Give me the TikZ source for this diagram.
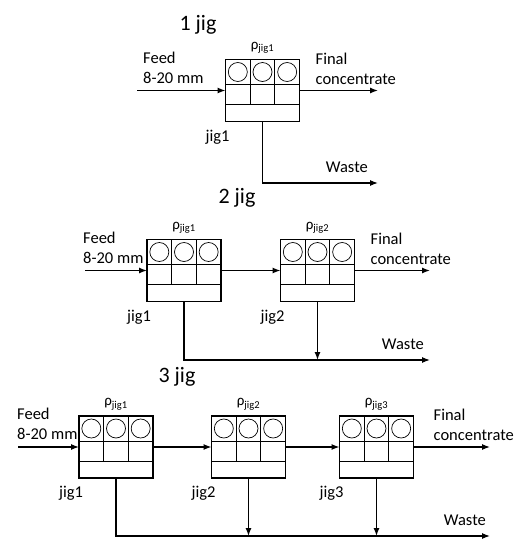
\documentclass[tikz,border=0pt]{standalone}
\usepackage{fontspec}
\setmainfont{Carlito}
\usetikzlibrary{arrows.meta,positioning,calc}

\tikzset{
  jig/.style={draw,line width=1.8pt,minimum width=74pt,minimum height=62pt,inner sep=0pt,outer sep=0pt},
  cell/.style={line width=0.7pt},
  flow/.style={line width=1.2pt,-{Latex[length=8pt,width=6pt]}},
  lbl/.style={font=\fontsize{16.5}{20}\selectfont,align=left,inner sep=0pt},
  head/.style={font=\fontsize{22}{24}\selectfont,inner sep=0pt},
  rho/.style={font=\fontsize{15}{16}\selectfont,inner sep=0pt},
}

% one jig: name, centre, number
\newcommand{\drawjig}[3]{%
  \node[jig] (#1) at #2 {};
  \draw[cell] ($(#1.north west)+(0,25)$) -- ($(#1.north east)+(0,25)$);
  \draw[cell] ($(#1.north west)+(0,45)$) -- ($(#1.north east)+(0,45)$);
  \foreach \i in {1,2}
    \draw[cell] ($(#1.north west)+(\i*74/3,0)$) -- ($(#1.north west)+(\i*74/3,45)$);
  \foreach \i in {0,1,2}
    \draw[cell] ($(#1.north west)+(12.33+\i*24.67,12.5)$) circle (9.5);
  \node[rho,above=6pt of #1.north] (#1rho) {ρ\textsubscript{jig#3}};
  \node[lbl,below=8pt of #1.south west,xshift=-8pt] (#1lbl) {jig#3};
}

\begin{document}
\begin{tikzpicture}[x=1pt,y=-1pt]
\useasboundingbox (0,0) rectangle (527,550);

% 1 jig
\node[head] (t1) at (198,25) {1 jig};
\drawjig{a1}{(262.5,90.5)}{1}
\coordinate (ain) at (137,90.5);
\coordinate (aout) at (378,90.5);
\coordinate (aw) at (378,183);
\draw[flow] (ain) -- (a1);
\draw[flow] (a1) -- (aout);
\draw[flow] (a1.south) |- (aw);
\node[lbl,above right=7pt and 6pt of ain] (afeed) {Feed\\8-20 mm};
\node[lbl,above right=6pt and 16pt of a1.east] (aconc) {Final\\concentrate};
\node[lbl,above left=10pt and 10pt of aw] (awaste) {Waste};

% 2 jig
\node[head] (t2) at (237,198) {2 jig};
\foreach \n/\x in {1/184,2/317.5}{
  \drawjig{b\n}{(\x,270.5)}{\n}
}
\coordinate (bin) at (85,270.5);
\coordinate (bout) at (430,270.5);
\coordinate (bw) at (430,360);
\draw[flow] (bin) -- (b1);
\draw[flow] (b1) -- (b2);
\draw[flow] (b2) -- (bout);
\draw[flow] (b1.south) |- (bw);
\draw[flow] (b2.south) -- (b2.south |- bw);
\node[lbl,above right=7pt and -2pt of bin] (bfeed) {Feed\\8-20 mm};
\node[lbl,above right=6pt and 16pt of b2.east] (bconc) {Final\\concentrate};
\node[lbl,above left=10pt and 6pt of bw] (bwaste) {Waste};

% 3 jig
\node[head] (t3) at (177,377) {3 jig};
\foreach \n/\x in {1/116,2/248.5,3/376.5}{
  \drawjig{c\n}{(\x,447)}{\n}
}
\coordinate (cin) at (18,447);
\coordinate (cout) at (490,447);
\coordinate (cw) at (490,536);
\draw[flow] (cin) -- (c1);
\draw[flow] (c1) -- (c2);
\draw[flow] (c2) -- (c3);
\draw[flow] (c3) -- (cout);
\draw[flow] (c1.south) |- (cw);
\draw[flow] (c2.south) -- (c2.south |- cw);
\draw[flow] (c3.south) -- (c3.south |- cw);
\node[lbl,above right=7pt and -1pt of cin] (cfeed) {Feed\\8-20 mm};
\node[lbl,above right=6pt and 20pt of c3.east] (cconc) {Final\\concentrate};
\node[lbl,above left=10pt and 4pt of cw] (cwaste) {Waste};
\end{tikzpicture}
\end{document}
